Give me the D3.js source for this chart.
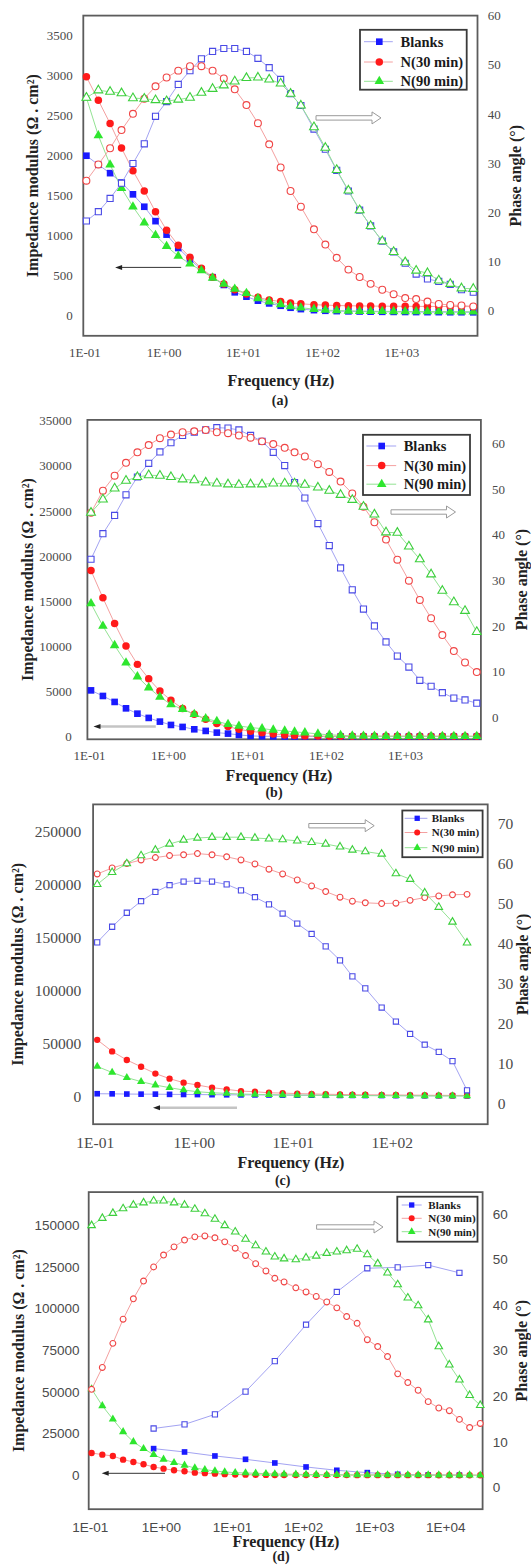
<!DOCTYPE html>
<html>
<head>
<meta charset="utf-8">
<script src="https://cdn.jsdelivr.net/npm/d3@7"></script>
<style>
  body { margin: 0; background: #fff; }
  svg { display: block; }
</style>
</head>
<body>
<div id="chart"></div>
<script>
var freqHz = [0.106, 0.150, 0.211, 0.294, 0.41, 0.57, 0.79, 1.09, 1.53, 2.15,
  3.0, 4.15, 5.75, 7.9, 11.1, 15.5, 21.5, 30, 40, 54,
  79, 110, 153, 215, 298, 410, 575, 800, 1120, 1540,
  2140, 2970, 4150, 5750, 8100, 11400, 15800, 22000, 31000];
var freqBlankD = [0.79, 2.15, 5.75, 15.5, 40, 110, 298, 800, 2140, 5750, 15800];

var seriesNames = ["Blanks", "N(30 min)", "N(90 min)"];
var xTickVals = [0.1, 1, 10, 100, 1000, 10000];
var xTickText = ["1E-01", "1E+00", "1E+01", "1E+02", "1E+03", "1E+04"];

// (a) impedance modulus (ohm.cm2) and phase angle (deg)
var aBlankZ = [1998, 1885, 1780, 1662, 1515, 1360, 1180, 1011, 844, 701, 576, 479, 382, 290, 235, 185, 151, 122, 97, 80, 67, 59, 55, 52, 50, 48, 46, 45, 44, 43, 42, 42, 41, 41, 40];
var aN30Z = [2985, 2691, 2401, 2094, 1810, 1558, 1297, 1067, 878, 727, 592, 479, 394, 323, 268, 227, 193, 176, 155, 147, 135, 130, 125, 122, 120, 118, 117, 116, 115, 114, 113, 113, 112, 112, 111];
var aN90Z = [2724, 2250, 1885, 1591, 1360, 1159, 1004, 865, 743, 646, 563, 470, 394, 331, 277, 214, 173, 139, 113, 97, 80, 68, 62, 58, 55, 53, 52, 51, 50, 50, 49, 49, 48, 48, 47];
var aBlankPh = [18.2, 20.1, 22.8, 25.9, 29.9, 33.9, 39.5, 42.5, 46.0, 48.8, 51.2, 52.7, 53.3, 53.3, 52.7, 51.3, 49.4, 47.0, 44.1, 41.7, 36.9, 32.8, 28.5, 24.3, 20.4, 17.2, 14.1, 11.9, 9.6, 7.4, 6.4, 5.9, 5.3, 4.2, 3.7];
var aN30Ph = [26.4, 29.7, 33.0, 36.7, 40.0, 43.1, 45.6, 47.4, 48.8, 49.7, 49.7, 48.8, 47.2, 45.0, 41.8, 38.1, 33.8, 29.1, 24.3, 21.1, 16.5, 13.4, 10.7, 8.3, 6.8, 5.4, 4.2, 3.3, 2.5, 2.3, 1.8, 1.3, 1.1, 1.0, 0.8];
var aN90Ph = [43.3, 44.8, 44.5, 44.2, 43.2, 43.1, 42.8, 42.6, 42.9, 43.3, 44.3, 45.1, 45.8, 46.6, 47.3, 47.4, 47.0, 46.2, 44.1, 41.7, 37.3, 33.1, 28.6, 24.4, 20.4, 17.2, 14.1, 11.9, 9.8, 8.1, 7.6, 6.1, 5.4, 4.5, 4.4];

// (b)
var bBlankZ = [5120, 4500, 3840, 3130, 2540, 2070, 1660, 1290, 1070, 810, 630, 440, 330, 190, 75, 40, 25, 15, 10, 8, 6, 5, 5, 4, 4, 4, 3, 3, 3, 3, 3, 3, 3, 3, 3];
var bN30Z = [18390, 15370, 12530, 10030, 8000, 6410, 5050, 4020, 3100, 2470, 1910, 1440, 1110, 810, 590, 440, 300, 190, 110, 80, 60, 50, 45, 40, 38, 36, 35, 34, 33, 32, 31, 30, 30, 30, 30];
var bN90Z = [14740, 12240, 10100, 8180, 6640, 5420, 4390, 3570, 3020, 2470, 1990, 1700, 1360, 1180, 1000, 885, 740, 630, 520, 440, 300, 190, 150, 75, 60, 55, 50, 48, 46, 45, 44, 43, 42, 41, 40];
var bBlankPh = [34.6, 40.2, 44.2, 48.7, 52.6, 55.6, 58.1, 60.1, 61.7, 62.4, 62.9, 63.4, 63.3, 62.9, 61.7, 60.4, 58.0, 55.1, 51.4, 48.0, 42.4, 37.6, 32.7, 27.9, 23.7, 20.0, 16.5, 13.4, 11.0, 8.1, 6.8, 5.4, 4.2, 3.8, 3.1];
var bN30Ph = [44.8, 49.6, 52.9, 55.7, 58.0, 59.6, 61.1, 61.9, 62.4, 62.6, 62.9, 62.4, 62.2, 61.7, 61.2, 60.4, 59.8, 59.0, 58.0, 57.1, 55.4, 53.7, 51.6, 49.0, 46.1, 42.7, 38.9, 34.5, 29.9, 25.7, 21.7, 18.0, 14.5, 12.0, 9.9];
var bN90Ph = [44.8, 47.7, 50.1, 51.8, 52.6, 53.0, 52.9, 52.6, 52.1, 51.9, 51.4, 51.2, 51.0, 50.9, 51.0, 51.0, 51.2, 51.2, 51.2, 50.9, 50.3, 49.6, 48.7, 47.6, 46.1, 44.4, 40.5, 40.4, 37.4, 34.6, 31.3, 27.7, 25.2, 23.3, 18.7];

// (c)
var cBlankZ = [2900, 2800, 2600, 2500, 2500, 2300, 2200, 2100, 2000, 1900, 1800, 1800, 1700, 1600, 1500, 1500, 1400, 1300, 1300, 1200, 1200, 1100, 1100, 1000, 1000, 1000, 900];
var cN30Z = [53700, 42800, 34700, 28300, 21900, 17100, 13300, 11100, 8600, 7000, 5400, 4800, 3800, 3500, 3000, 2700, 2400, 2200, 2000, 1900, 1800, 1700, 1600, 1500, 1400, 1300, 1300];
var cN90Z = [28600, 22900, 18100, 14300, 11100, 8600, 6400, 4800, 3800, 3200, 2600, 2300, 2000, 1800, 1600, 1500, 1400, 1300, 1200, 1100, 1000, 1000, 900, 900, 800, 800, 800];
var cBlankPh = [40.4, 44.3, 47.8, 50.7, 53.0, 54.7, 55.6, 55.8, 55.6, 54.9, 53.4, 51.7, 49.9, 47.6, 45.1, 42.5, 39.4, 35.9, 31.9, 28.9, 24.1, 20.6, 17.5, 14.8, 13.0, 10.7, 3.4];
var cN30Ph = [57.5, 59.0, 60.1, 61.0, 61.6, 62.1, 62.3, 62.6, 62.3, 61.8, 61.0, 60.0, 58.7, 57.5, 56.0, 54.5, 53.1, 51.7, 50.7, 50.3, 50.1, 50.2, 50.9, 51.6, 52.0, 52.3, 52.4];
var cN90Ph = [54.9, 57.9, 60.1, 62.1, 63.5, 65.0, 66.0, 66.5, 66.7, 66.7, 66.7, 66.5, 66.3, 66.1, 65.8, 65.4, 65.0, 64.3, 63.5, 63.1, 62.5, 57.6, 56.2, 52.8, 49.2, 45.5, 40.3];

// (d)
var dBlankZ = [16000, 14000, 11600, 9600, 7400, 5000, 3000, 1600, 600, 200, 100];
var dN30Z = [13400, 12400, 11600, 9400, 8000, 6600, 5000, 4000, 3000, 2400, 1600, 1300, 1000, 700, 500, 400, 300, 250, 200, 180, 160, 150, 140, 130, 120, 110, 100, 100, 90, 90, 80, 80, 70, 70, 60, 60, 50, 50, 50];
var dN90Z = [51800, 41700, 33700, 26100, 20100, 16000, 12400, 9600, 7600, 6000, 4400, 3400, 2600, 2000, 1600, 1400, 1200, 1000, 800, 700, 600, 500, 450, 400, 350, 300, 280, 260, 240, 220, 200, 190, 180, 170, 160, 150, 140, 130, 120];
var dBlankPh = [12.9, 13.8, 16.0, 21.0, 27.7, 35.7, 42.9, 48.1, 48.3, 48.8, 47.1];
var dN30Ph = [21.5, 26.3, 31.6, 36.9, 41.4, 45.3, 48.4, 51.0, 52.8, 54.3, 55.0, 55.2, 54.8, 53.9, 52.5, 50.9, 49.1, 47.5, 45.9, 45.1, 43.8, 42.9, 41.9, 40.7, 39.4, 37.5, 36.0, 32.4, 30.9, 28.7, 24.9, 23.0, 21.3, 18.8, 17.4, 16.8, 14.9, 13.1, 14.0];
var dN90Ph = [57.5, 59.1, 60.2, 61.2, 62.0, 62.5, 62.9, 62.9, 62.5, 62.0, 61.1, 60.1, 58.9, 57.5, 56.1, 54.5, 53.1, 51.7, 50.6, 50.2, 50.0, 50.4, 50.8, 51.4, 51.7, 52.0, 52.3, 51.1, 49.1, 47.1, 44.5, 41.6, 39.9, 36.8, 30.9, 26.9, 23.6, 20.2, 18.0];

// tick values
var aZTicks = [0, 500, 1000, 1500, 2000, 2500, 3000, 3500];
var bZTicks = [0, 5000, 10000, 15000, 20000, 25000, 30000, 35000];
var cZTicks = [0, 50000, 100000, 150000, 200000, 250000];
var dZTicks = [0, 25000, 50000, 75000, 100000, 125000, 150000];
var phTicks60 = [0, 10, 20, 30, 40, 50, 60];
var phTicks70 = [0, 10, 20, 30, 40, 50, 60, 70];

var W = 531, H = 1565;
var serif = "Liberation Serif, Times New Roman, serif";
var sans = "Liberation Sans, Arial, sans-serif";

var styles = [
  { shape: d3.symbolSquare, fill: "#1a1aff", open: "#4a4ae6", line: "#a3a3f2" },
  { shape: d3.symbolCircle, fill: "#ff1a1a", open: "#f04545", line: "#f4a0a0" },
  { shape: d3.symbolTriangle, fill: "#2ee62e", open: "#3ccf3c", line: "#93e393" }
];

function zip(f, v) { return f.slice(0, v.length).map(function(d, i) { return { f: d, v: v[i] }; }); }

var panels = [
  { label: "(a)", box: [83.3, 15.6, 477.5, 335.8],
    xRef: [0.1, 84.4, 1000, 401.3], zRef: [0, 315.5, 3500, 35.6], pRef: [0, 310.4, 60, 15.6],
    zTicks: aZTicks, pTicks: phTicks60, nX: 5,
    tick: { font: serif, size: 13, padL: 10.5, padR: 10.2, padB: 11.6 },
    leftTitleX: 32, rightTitleX: 515, freqY: 380, freqX: 281, labelY: 400, labelX: 280,
    legend: { box: [360, 29.8, 466.7, 89.7], rows: [41.7, 62, 81.3], l0: 364, l1: 392.8, m: 379.3, t: 400.6, size: 14.5, ms: 1 },
    hollow: [316, 381, 117.9], back: [115.1, 181.2, 267.4, "thin"],
    ms: 1, z: [[freqHz, aBlankZ], [freqHz, aN30Z], [freqHz, aN90Z]],
    ph: [[freqHz, aBlankPh], [freqHz, aN30Ph], [freqHz, aN90Ph]] },
  { label: "(b)", box: [87.4, 419.9, 480.9, 739.3],
    xRef: [0.1, 89, 1000, 405], zRef: [0, 736.6, 35000, 420.6], pRef: [0, 717.3, 60, 443.2],
    zTicks: bZTicks, pTicks: phTicks60, nX: 5,
    tick: { font: serif, size: 13, padL: 15.6, padR: 11, padB: 11.7 },
    leftTitleX: 27, rightTitleX: 521, freqY: 775, freqX: 279, labelY: 792, labelX: 274,
    legend: { box: [363, 434.8, 470, 495], rows: [446, 465.6, 484.2], l0: 366.4, l1: 396.2, m: 381.7, t: 403.7, size: 14.5, ms: 1 },
    hollow: [391, 455.5, 512], back: [93.5, 155.8, 726.5, "thick"],
    ms: 1, z: [[freqHz, bBlankZ], [freqHz, bN30Z], [freqHz, bN90Z]],
    ph: [[freqHz, bBlankPh], [freqHz, bN30Ph], [freqHz, bN90Ph]] },
  { label: "(c)", box: [93.1, 804.4, 487.7, 1124.2],
    xRef: [0.1, 94.7, 100, 391.8], zRef: [0, 1096.8, 250000, 831.5], pRef: [0, 1103.9, 70, 824],
    zTicks: cZTicks, pTicks: phTicks70, nX: 4,
    tick: { font: serif, size: 15.5, padL: 11.8, padR: 10.1, padB: 13.2 },
    leftTitleX: 17, rightTitleX: 522, freqY: 1162, freqX: 291, labelY: 1180, labelX: 282.7,
    legend: { box: [402.3, 810.5, 482.6, 857.2], rows: [818.3, 832.5, 847.7], l0: 404.7, l1: 427.4, m: 417.2, t: 431.8, size: 11, ms: 0.8 },
    hollow: [308.8, 374.2, 825.7], back: [153, 237, 1107.7, "thick"],
    ms: 0.85, z: [[freqHz, cBlankZ], [freqHz, cN30Z], [freqHz, cN90Z]],
    ph: [[freqHz, cBlankPh], [freqHz, cN30Ph], [freqHz, cN90Ph]] },
  { label: "(d)", box: [88.7, 1192.1, 482.6, 1509.2],
    xRef: [0.1, 89.8, 10000, 445.3], zRef: [0, 1475.3, 150000, 1225.3], pRef: [0, 1487.2, 60, 1214.1],
    zTicks: dZTicks, pTicks: phTicks60, nX: 6,
    tick: { font: sans, size: 13.5, padL: 9.1, padR: 10.1, padB: 12.9 },
    leftTitleX: 18.6, rightTitleX: 521, freqY: 1541, freqX: 286, labelY: 1556.5, labelX: 281,
    legend: { box: [397.3, 1196.7, 477.5, 1241.7], rows: [1205, 1218.3, 1231.7], l0: 401.7, l1: 421.7, m: 411.7, t: 428.3, size: 11, ms: 0.8 },
    hollow: [316.6, 383, 1227], back: [101.7, 165, 1473.3, "thin"],
    ms: 0.85, z: [[freqBlankD, dBlankZ], [freqHz, dN30Z], [freqHz, dN90Z]],
    ph: [[freqBlankD, dBlankPh], [freqHz, dN30Ph], [freqHz, dN90Ph]] }
];

var svg = d3.select("#chart").append("svg")
  .attr("width", W)
  .attr("height", H);

function marker(i, k) {
  var sizes = [44, 44, 40];
  return d3.symbol().type(styles[i].shape).size(sizes[i] * k * k)();
}

function drawPanel(p) {
  var g = svg.append("g");
  var b = p.box;
  var x = d3.scaleLog().domain([p.xRef[0], p.xRef[2]]).range([p.xRef[1], p.xRef[3]]);
  var yZ = d3.scaleLinear().domain([p.zRef[0], p.zRef[2]]).range([p.zRef[1], p.zRef[3]]);
  var yP = d3.scaleLinear().domain([p.pRef[0], p.pRef[2]]).range([p.pRef[1], p.pRef[3]]);

  // axes (labels only, no tick marks)
  var ax = g.append("g").attr("transform", "translate(" + b[0] + ",0)")
    .call(d3.axisLeft(yZ).tickValues(p.zTicks).tickSize(0).tickPadding(p.tick.padL)
      .tickFormat(d3.format("d")));
  var ar = g.append("g").attr("transform", "translate(" + b[2] + ",0)")
    .call(d3.axisRight(yP).tickValues(p.pTicks).tickSize(0).tickPadding(p.tick.padR)
      .tickFormat(d3.format("d")));
  var xs = xTickVals.slice(0, p.nX);
  var ab = g.append("g").attr("transform", "translate(0," + b[3] + ")")
    .call(d3.axisBottom(x).tickValues(xs).tickSize(0).tickPadding(p.tick.padB)
      .tickFormat(function(d) { return xTickText[xTickVals.indexOf(d)]; }));
  [ax, ar, ab].forEach(function(a) {
    a.select(".domain").remove();
    a.attr("font-family", p.tick.font).attr("font-size", p.tick.size);
    a.selectAll("text").attr("fill", "#4a4a4a");
  });

  // frame
  g.append("rect")
    .attr("x", b[0]).attr("y", b[1])
    .attr("width", b[2] - b[0]).attr("height", b[3] - b[1])
    .attr("fill", "none").attr("stroke", "#5c5c5c").attr("stroke-width", 1.8);

  var lineZ = d3.line().x(function(d) { return x(d.f); }).y(function(d) { return yZ(d.v); });
  var lineP = d3.line().x(function(d) { return x(d.f); }).y(function(d) { return yP(d.v); });

  // impedance series (filled markers)
  p.z.forEach(function(s, i) {
    var pts = zip(s[0], s[1]);
    g.append("path").datum(pts)
      .attr("fill", "none").attr("stroke", styles[i].line).attr("stroke-width", 1)
      .attr("d", lineZ);
    g.selectAll(null).data(pts).enter().append("path")
      .attr("transform", function(d) { return "translate(" + x(d.f) + "," + yZ(d.v) + ")"; })
      .attr("d", marker(i, p.ms))
      .attr("fill", styles[i].fill);
  });

  // phase series (open markers)
  p.ph.forEach(function(s, i) {
    var pts = zip(s[0], s[1]);
    g.append("path").datum(pts)
      .attr("fill", "none").attr("stroke", styles[i].line).attr("stroke-width", 1)
      .attr("d", lineP);
    g.selectAll(null).data(pts).enter().append("path")
      .attr("transform", function(d) { return "translate(" + x(d.f) + "," + yP(d.v) + ")"; })
      .attr("d", marker(i, p.ms * 0.92))
      .attr("fill", "#fff")
      .attr("stroke", styles[i].open)
      .attr("stroke-width", 1.1);
  });

  // titles
  var cy = (b[1] + b[3]) / 2;
  g.append("text")
    .attr("transform", "translate(" + p.leftTitleX + "," + cy + ") rotate(-90)")
    .attr("text-anchor", "middle").attr("dy", "0.35em")
    .attr("font-family", serif).attr("font-weight", "bold").attr("font-size", 16)
    .attr("fill", "#222")
    .text("Impedance modulus (\u03A9 . cm\u00B2)");
  g.append("text")
    .attr("transform", "translate(" + p.rightTitleX + "," + cy + ") rotate(-90)")
    .attr("text-anchor", "middle").attr("dy", "0.35em")
    .attr("font-family", serif).attr("font-weight", "bold").attr("font-size", 16)
    .attr("fill", "#222")
    .text("Phase angle (\u00B0)");
  g.append("text")
    .attr("x", p.freqX).attr("y", p.freqY).attr("dy", "0.35em")
    .attr("text-anchor", "middle")
    .attr("font-family", serif).attr("font-weight", "bold").attr("font-size", 16)
    .attr("fill", "#222")
    .text("Frequency (Hz)");
  g.append("text")
    .attr("x", p.labelX).attr("y", p.labelY).attr("dy", "0.35em")
    .attr("text-anchor", "middle")
    .attr("font-family", serif).attr("font-weight", "bold").attr("font-size", 14)
    .attr("fill", "#222")
    .text(p.label);

  // legend
  var L = p.legend;
  g.append("rect")
    .attr("x", L.box[0]).attr("y", L.box[1])
    .attr("width", L.box[2] - L.box[0]).attr("height", L.box[3] - L.box[1])
    .attr("fill", "#fff").attr("stroke", "#3a3a3a").attr("stroke-width", 1.8);
  seriesNames.forEach(function(name, i) {
    var ry = L.rows[i];
    g.append("line")
      .attr("x1", L.l0).attr("x2", L.l1).attr("y1", ry).attr("y2", ry)
      .attr("stroke", styles[i].line).attr("stroke-width", 1);
    g.append("path")
      .attr("transform", "translate(" + L.m + "," + ry + ")")
      .attr("d", marker(i, L.ms))
      .attr("fill", styles[i].fill);
    g.append("text")
      .attr("x", L.t).attr("y", ry).attr("dy", "0.35em")
      .attr("font-family", serif).attr("font-weight", "bold").attr("font-size", L.size)
      .attr("fill", "#1a1a1a")
      .text(name);
  });

  // hollow arrow pointing to the phase axis
  var h = p.hollow, hl = 9, hh = 6, sh = 2.2;
  g.append("path")
    .attr("d", "M" + h[0] + "," + (h[2] - sh) + "H" + (h[1] - hl) + "V" + (h[2] - hh) +
      "L" + h[1] + "," + h[2] + "L" + (h[1] - hl) + "," + (h[2] + hh) + "V" + (h[2] + sh) +
      "H" + h[0] + "Z")
    .attr("fill", "#fff").attr("stroke", "#9a9a9a").attr("stroke-width", 1);

  // arrow pointing to the modulus axis
  var a = p.back;
  g.append("line")
    .attr("x1", a[0] + 5).attr("x2", a[1]).attr("y1", a[2]).attr("y2", a[2])
    .attr("stroke", a[3] === "thick" ? "#c4c4c4" : "#333")
    .attr("stroke-width", a[3] === "thick" ? 2.6 : 1);
  g.append("path")
    .attr("d", "M" + a[0] + "," + a[2] + "L" + (a[0] + 7) + "," + (a[2] - 2.5) +
      "L" + (a[0] + 7) + "," + (a[2] + 2.5) + "Z")
    .attr("fill", "#222");
}

panels.forEach(drawPanel);
</script>
</body>
</html>
